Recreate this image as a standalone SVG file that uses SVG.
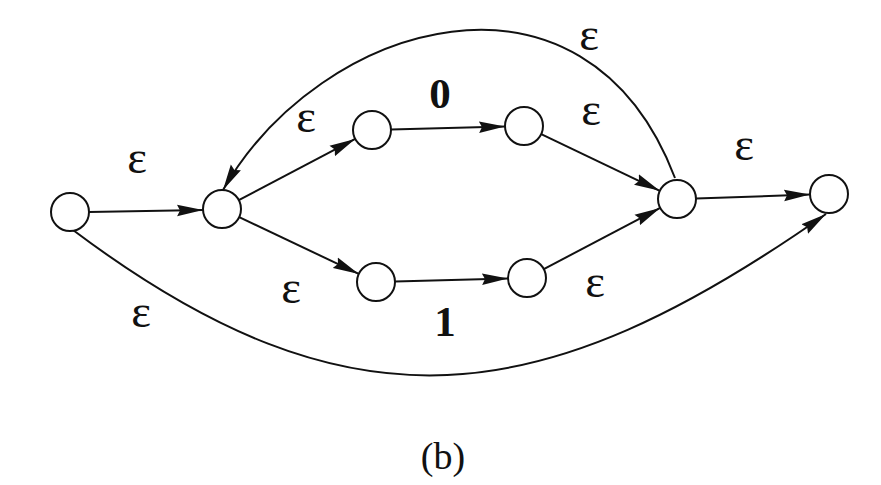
<svg xmlns="http://www.w3.org/2000/svg" width="881" height="485" viewBox="0 0 881 485">
<style>
.node{fill:#fff;stroke:#111;stroke-width:2}
.edge{fill:none;stroke:#111;stroke-width:2;marker-end:url(#ah)}
.lbl{font-family:"Liberation Serif","DejaVu Serif",serif;font-size:47px;fill:#111;text-anchor:middle}
.num{font-family:"Liberation Serif","DejaVu Serif",serif;font-size:43px;font-weight:bold;fill:#111;text-anchor:middle}
.cap{font-family:"Liberation Serif","DejaVu Serif",serif;font-size:38px;fill:#111;text-anchor:middle}
</style>
<defs>
<marker id="ah" markerUnits="userSpaceOnUse" markerWidth="28" markerHeight="14" refX="26" refY="7" orient="auto">
<path d="M0,1.2 L26,7 L0,12.8 L3,7 Z" fill="#111"/>
</marker>
</defs>
<rect width="881" height="485" fill="#fff"/>
<g id="connectors">
<path class="edge" d="M89,212 L203,210"/>
<path class="edge" d="M238.8,200.1 L355.2,138.9"/>
<path class="edge" d="M391,129.5 L505,126.5"/>
<path class="edge" d="M541.2,134.2 L659.8,190.8"/>
<path class="edge" d="M239.2,217.1 L358.8,273.9"/>
<path class="edge" d="M395,281.5 L508,278.5"/>
<path class="edge" d="M543.8,269.1 L660.2,207.9"/>
<path class="edge" d="M696,198.4 L810,194.6"/>
<path class="edge" d="M675,178 C585,-58 320,20 223,190"/>
<path class="edge" d="M73,230 C351,439 542,413 826,214"/>
</g>
<g id="n0"><circle class="node" cx="70" cy="212" r="19"/></g>
<g id="n1"><circle class="node" cx="222" cy="209" r="19"/></g>
<g id="n2"><circle class="node" cx="372" cy="130" r="19"/></g>
<g id="n3"><circle class="node" cx="524" cy="126" r="19"/></g>
<g id="n4"><circle class="node" cx="376" cy="282" r="19"/></g>
<g id="n5"><circle class="node" cx="527" cy="278" r="19"/></g>
<g id="n6"><circle class="node" cx="677" cy="199" r="19"/></g>
<g id="n7"><circle class="node" cx="829" cy="194" r="19"/></g>
<g id="labels">
<text class="lbl" x="137" y="173">ε</text>
<text class="lbl" x="306" y="132">ε</text>
<text class="num" x="440" y="108">0</text>
<text class="lbl" x="591" y="125">ε</text>
<text class="lbl" x="589" y="50">ε</text>
<text class="lbl" x="744" y="160">ε</text>
<text class="lbl" x="291" y="303">ε</text>
<text class="num" x="445" y="336">1</text>
<text class="lbl" x="595" y="297">ε</text>
<text class="lbl" x="141" y="327">ε</text>
<text class="cap" x="443" y="469">(b)</text>
</g>
</svg>
